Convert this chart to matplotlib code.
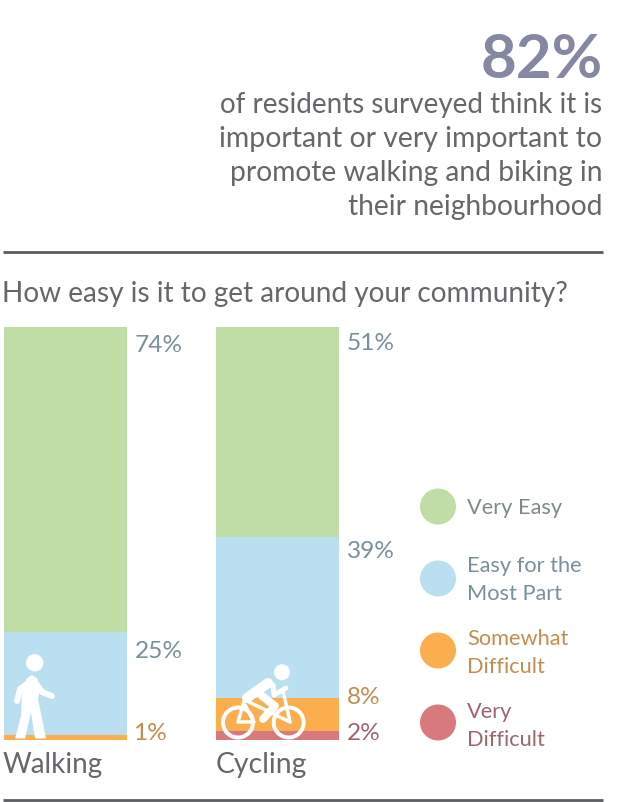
import matplotlib
matplotlib.use("Agg")
import matplotlib.pyplot as plt
from matplotlib.patches import Circle, Polygon

# Survey shares, percent of respondents
modes = ["Walking", "Cycling"]
levels = ["Very Difficult", "Somewhat Difficult", "Easy for the Most Part", "Very Easy"]
very_difficult = [0, 2]
somewhat_difficult = [1, 8]
easy_most_part = [25, 39]
very_easy = [74, 51]
series = [very_difficult, somewhat_difficult, easy_most_part, very_easy]

fills = ["#d8797e", "#fbae4d", "#b9dff0", "#c1dda6"]
label_colors = ["#a0656b", "#c48d50", "#7a909a", "#7c8c84"]
legend_text = ["Very\nDifficult", "Somewhat\nDifficult", "Easy for the\nMost Part", "Very Easy"]
INK = "#66676a"
FONT = "Lato"

W, H = 620, 803
fig = plt.figure(figsize=(W / 100, H / 100), dpi=100, facecolor="white")


def box(x0, y_top, x1, y_bottom):
    return [x0 / W, 1 - y_bottom / H, (x1 - x0) / W, (y_bottom - y_top) / H]


# Stacked bars
ax = fig.add_axes(box(4, 327.5, 339, 740.5))
bar_w = 123 / 212
ax.set_xlim(-bar_w / 2, 1 + bar_w / 2)
ax.set_ylim(0, 100)
ax.axis("off")
bottoms = [0, 0]
for vals, col in zip(series, fills):
    ax.bar([0, 1], vals, width=bar_w, bottom=bottoms, color=col, linewidth=0)
    bottoms = [b + v for b, v in zip(bottoms, vals)]

# Overlay in pixel units for headline, rules, legend and icons
ov = fig.add_axes([0, 0, 1, 1], zorder=3)
ov.set_xlim(0, W)
ov.set_ylim(H, 0)
ov.axis("off")
ov.patch.set_alpha(0)


def txt(x, y, s, size, color=INK, ha="left", weight="normal", va="center", **kw):
    return ov.text(x, y, s, fontsize=size, color=color, ha=ha, va=va,
                   family=FONT, weight=weight, **kw)


txt(603, 60, "82%", 44.5, color="#8488a3", ha="right", weight="bold")
head_lines = ["of residents surveyed think it is", "important or very important to",
              "promote walking and biking in", "their neighbourhood"]
head_sizes = [20.0, 20.4, 20.3, 20.3]
for i, (line, fs) in enumerate(zip(head_lines, head_sizes)):
    txt(602, 105 + i * 34, line, fs, ha="right")

txt(2, 294, "How easy is it to get around your community?", 20.15)

for y in (252.5, 800.5):
    ov.plot([3, 603], [y, y], color="#5b5c5e", lw=2.0, solid_capstyle="butt")

# Value labels beside the bars
value_labels = [
    (135, 346, very_easy[0], 3), (135, 652, easy_most_part[0], 2), (133, 734, somewhat_difficult[0], 1),
    (347, 344, very_easy[1], 3), (347, 552, easy_most_part[1], 2),
    (347, 698, somewhat_difficult[1], 1), (347, 734, very_difficult[1], 0),
]
for x, y, v, idx in value_labels:
    c = label_colors[2] if idx >= 2 else label_colors[idx]
    txt(x, y, f"{v}%", 17.6, color=c)

txt(3, 765, modes[0], 20)
txt(215.5, 765, modes[1], 20.4)

# Legend, top to bottom
legend_y = [507.5, 579.5, 651.5, 723.5]
legend_text_y = [507.5, 580.5, 653.5, 726.5]
for y, ty, col, lab, tc in zip(legend_y, legend_text_y, fills[::-1], legend_text[::-1], label_colors[::-1]):
    ov.add_patch(Circle((438, y), 18, color=col, lw=0))
    txt(467, ty, lab, 15.7, color=tc, linespacing=1.5)

# Pedestrian icon
white = "white"
def stroke(xs, ys, w):
    ov.plot(xs, ys, color=white, lw=w * 0.72, solid_capstyle="round",
            solid_joinstyle="round", zorder=5)

ov.add_patch(Circle((34.7, 663.8), 8.7, color=white, lw=0, zorder=5))
stroke([31, 20, 17], [682, 690, 702], 6)
stroke([35, 42, 52], [683, 693, 697], 6)
ov.add_patch(Polygon([(22, 690), (27, 679), (32, 676), (37, 679), (40, 690), (38, 700),
                      (46, 739.5), (35, 739.5), (31, 713), (25, 739.5), (15, 739.5), (21, 717)],
                     closed=True, color=white, lw=0, zorder=5))

# Cyclist icon
ov.add_patch(Circle((282, 673.2), 8, color=white, lw=0, zorder=5))
for cx in (238, 288.7):
    ov.add_patch(Circle((cx, 723.5), 15, fill=False, ec=white, lw=4 * 0.72, zorder=5))
stroke([268, 247], [684, 699], 10)
stroke([273, 274, 286], [686, 696, 689], 5)
stroke([283, 290], [692, 723], 3.5)
stroke([244, 238, 254, 245], [702, 723, 723, 706], 3.5)
stroke([247, 290], [702, 723], 3.5)
stroke([262, 275, 263], [697, 707, 720], 8)

fig.savefig("out.png", dpi=100, facecolor="white")
